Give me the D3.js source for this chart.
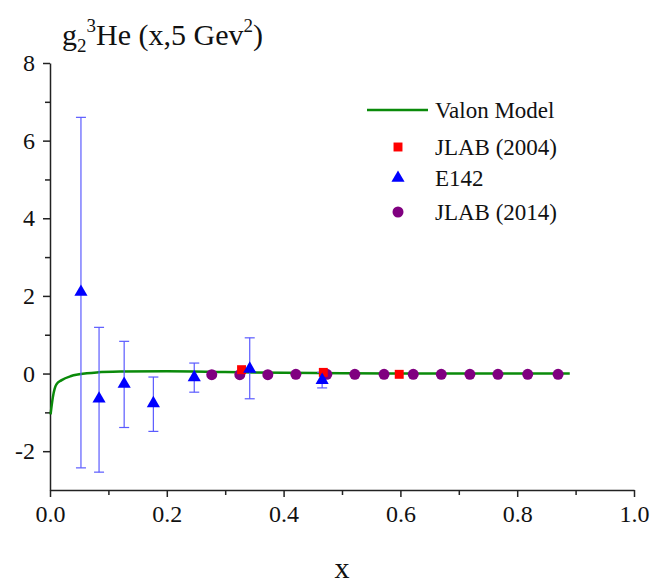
<!DOCTYPE html>
<html>
<head>
<meta charset="utf-8">
<script src="https://cdn.jsdelivr.net/npm/d3@7"></script>
<style>
  body { margin: 0; background: #fff; font-family: serif; }
  .axis path, .axis line { stroke: #222; stroke-width: 1.5; }
</style>
</head>
<body>
<svg id="chart" width="662" height="583" font-family="serif"></svg>
<script>
// Valon model curve
const valonX = [0.001, 0.005, 0.011, 0.02, 0.035, 0.05, 0.08, 0.12, 0.2, 0.3, 0.4, 0.5, 0.6, 0.7, 0.8, 0.89];
const valonY = [-1.05, -0.6, -0.28, -0.17, -0.07, -0.02, 0.03, 0.05, 0.06, 0.04, 0.02, 0.01, 0.0, 0.0, 0.0, 0.0];

// JLAB (2004)
const jlab04X = [0.328, 0.468, 0.598];
const jlab04Y = [0.1, 0.03, -0.02];

// E142 with error bars
const e142X = [0.053, 0.084, 0.127, 0.177, 0.247, 0.342, 0.466];
const e142Y = [2.1, -0.65, -0.27, -0.77, -0.1, 0.12, -0.17];
const e142Hi = [6.6, 1.19, 0.83, -0.09, 0.27, 0.92, 0.03];
const e142Lo = [-2.43, -2.54, -1.39, -1.49, -0.48, -0.65, -0.37];

// JLAB (2014)
const jlab14X = [0.277, 0.325, 0.373, 0.421, 0.474, 0.522, 0.572, 0.622, 0.67, 0.719, 0.767, 0.818, 0.87];
const jlab14Y = [-0.03, -0.03, -0.03, -0.02, -0.02, -0.02, -0.02, -0.02, -0.02, -0.02, -0.02, -0.02, -0.02];

const xMajor = [0, 0.2, 0.4, 0.6, 0.8, 1.0];
const xMinor = [0.1, 0.3, 0.5, 0.7, 0.9];
const yMajor = [-2, 0, 2, 4, 6, 8];
const yMinor = [-1, 1, 3, 5, 7];

const legendLabels = ["Valon Model", "JLAB (2004)", "E142", "JLAB (2014)"];

const svg = d3.select("#chart");
const x = d3.scaleLinear().domain([0, 1]).range([50, 634]);
const y = d3.scaleLinear().domain([-3, 8]).range([490, 63]);

// Axes
const xAxis = svg.append("g").attr("class", "axis").attr("transform", `translate(0,${y(-3)})`)
  .call(d3.axisBottom(x).tickValues(xMajor).tickSize(7).tickSizeOuter(0).tickPadding(8).tickFormat(d3.format(".1f")));
svg.append("g").attr("class", "axis").attr("transform", `translate(0,${y(-3)})`)
  .call(d3.axisBottom(x).tickValues(xMinor).tickSize(5).tickFormat("")).select(".domain").remove();

const yAxis = svg.append("g").attr("class", "axis").attr("transform", `translate(${x(0)},0)`)
  .call(d3.axisLeft(y).tickValues(yMajor).tickSize(7).tickSizeOuter(0).tickPadding(8).tickFormat(d => String(d)));
svg.append("g").attr("class", "axis").attr("transform", `translate(${x(0)},0)`)
  .call(d3.axisLeft(y).tickValues(yMinor).tickSize(5).tickFormat("")).select(".domain").remove();

svg.selectAll(".axis").attr("font-family", "serif").attr("font-size", null);
svg.selectAll(".axis text").attr("font-family", "serif").attr("font-size", 24).attr("fill", "#111");

// Title
const title = svg.append("text").attr("x", 62).attr("y", 45)
  .attr("font-family", "serif").attr("font-size", 30).attr("fill", "#111");
title.append("tspan").text("g");
title.append("tspan").attr("dy", 7).attr("font-size", 19).text("2");
title.append("tspan").attr("dy", -20).attr("font-size", 19).text("3");
title.append("tspan").attr("dy", 13).text("He (x,5 Gev");
title.append("tspan").attr("dy", -13).attr("font-size", 19).text("2");
title.append("tspan").attr("dy", 13).text(")");

svg.append("text").attr("x", 342).attr("y", 578).attr("text-anchor", "middle")
  .attr("font-family", "serif").attr("font-size", 30).attr("fill", "#111").text("x");

// Valon curve
const valon = valonX.map((d, i) => [d, valonY[i]]);
svg.append("path").datum(valon)
  .attr("d", d3.line().x(d => x(d[0])).y(d => y(d[1])).curve(d3.curveMonotoneX))
  .attr("fill", "none").attr("stroke", "#0a8a0a").attr("stroke-width", 2.5);

// E142 error bars
const errCol = "#5b5bff";
e142X.forEach((d, i) => {
  const g = svg.append("g").attr("stroke", errCol).attr("stroke-width", 1.2);
  g.append("line").attr("x1", x(d)).attr("x2", x(d)).attr("y1", y(e142Hi[i])).attr("y2", y(e142Lo[i]));
  g.append("line").attr("x1", x(d) - 5).attr("x2", x(d) + 5).attr("y1", y(e142Hi[i])).attr("y2", y(e142Hi[i]));
  g.append("line").attr("x1", x(d) - 5).attr("x2", x(d) + 5).attr("y1", y(e142Lo[i])).attr("y2", y(e142Lo[i]));
});

const tri = d3.symbol().type(d3.symbolTriangle).size(75);
const sq = d3.symbol().type(d3.symbolSquare).size(80);
const circ = d3.symbol().type(d3.symbolCircle).size(95);

// JLAB 2014 circles
svg.selectAll(".j14").data(jlab14X).join("path").attr("class", "j14")
  .attr("transform", (d, i) => `translate(${x(d)},${y(jlab14Y[i])})`)
  .attr("d", circ).attr("fill", "#800080");

// JLAB 2004 squares
svg.selectAll(".j04").data(jlab04X).join("path").attr("class", "j04")
  .attr("transform", (d, i) => `translate(${x(d)},${y(jlab04Y[i])})`)
  .attr("d", sq).attr("fill", "#ff0000");

// E142 triangles
svg.selectAll(".e142").data(e142X).join("path").attr("class", "e142")
  .attr("transform", (d, i) => `translate(${x(d)},${y(e142Y[i])})`)
  .attr("d", tri).attr("fill", "#0000ff");

// Legend
const lg = svg.append("g");
const rowY = [110, 147, 178, 212];
lg.append("line").attr("x1", 367).attr("x2", 428).attr("y1", rowY[0]).attr("y2", rowY[0])
  .attr("stroke", "#0a8a0a").attr("stroke-width", 2.5);
lg.append("path").attr("transform", `translate(398,${rowY[1]})`).attr("d", sq).attr("fill", "#ff0000");
lg.append("path").attr("transform", `translate(398,${rowY[2]})`).attr("d", tri).attr("fill", "#0000ff");
lg.append("path").attr("transform", `translate(398,${rowY[3]})`).attr("d", circ).attr("fill", "#800080");
legendLabels.forEach((t, i) => {
  lg.append("text").attr("x", 435).attr("y", rowY[i] + 8)
    .attr("font-family", "serif").attr("font-size", 23).attr("fill", "#111").text(t);
});
</script>
</body>
</html>
